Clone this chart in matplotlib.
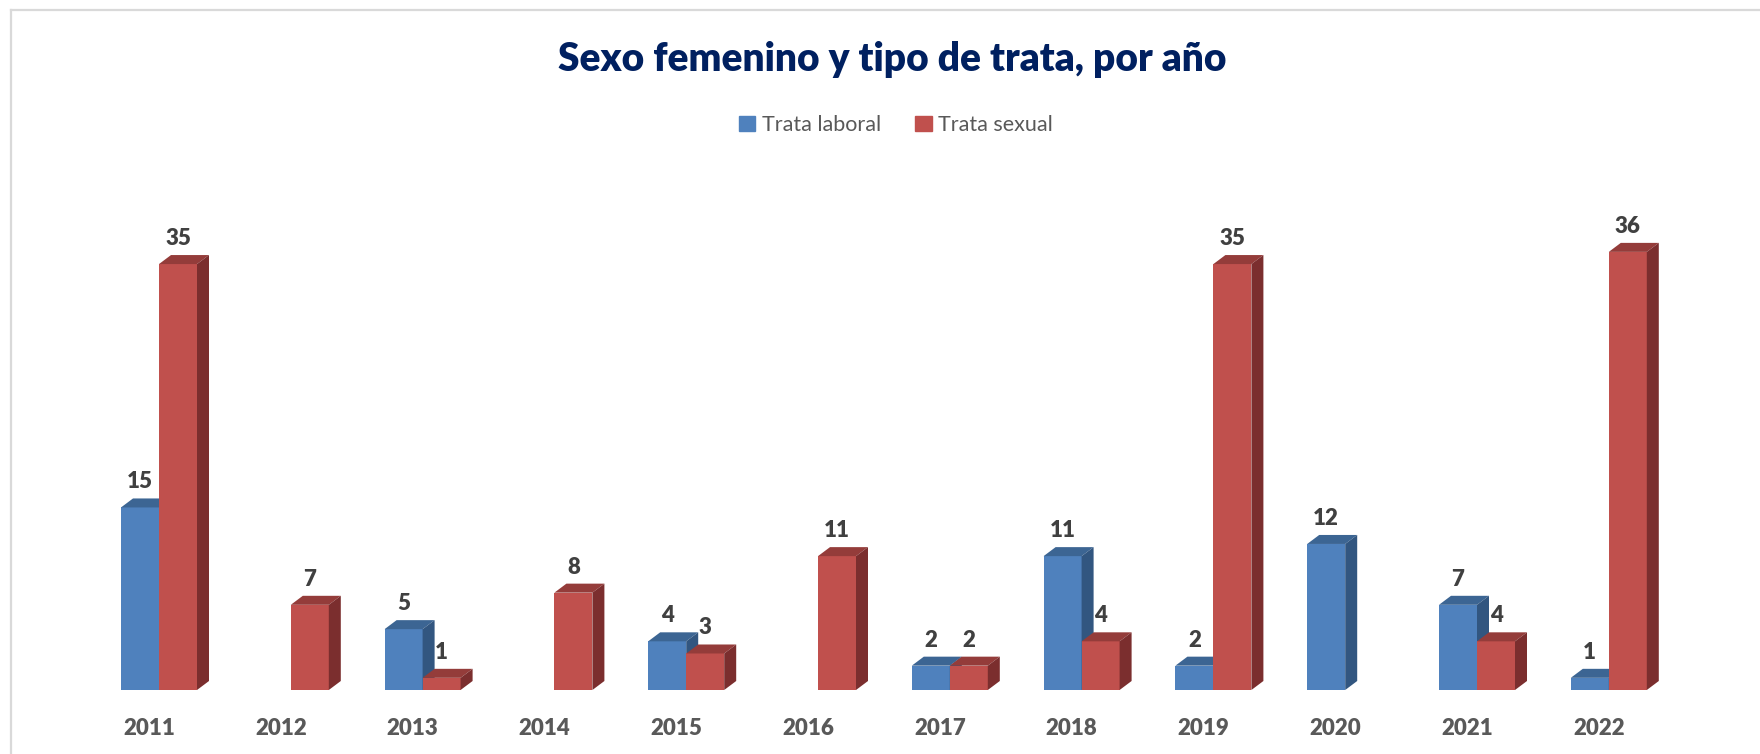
import matplotlib
matplotlib.use("Agg")
import matplotlib.pyplot as plt
from matplotlib.patches import Polygon, Rectangle
from matplotlib.lines import Line2D

years = ["2011", "2012", "2013", "2014", "2015", "2016", "2017", "2018", "2019", "2020", "2021", "2022"]
laboral = [15, 0, 5, 0, 4, 0, 2, 11, 2, 12, 7, 1]
sexual = [35, 7, 1, 8, 3, 11, 2, 4, 35, 0, 4, 36]
series_names = ["Trata laboral", "Trata sexual"]

title = "Sexo femenino y tipo de trata, por año"

# colours: front, top, side
blue = ("#4F81BD", "#3C6593", "#325680")
red = ("#C0504D", "#943C3A", "#7B2E2E")

FONT = ["Lato", "DejaVu Sans"]
plt.rcParams["font.family"] = FONT

W, H = 1760, 754
fig = plt.figure(figsize=(W / 100, H / 100), dpi=100)
fig.patch.set_facecolor("white")

# axes geometry (pixels)
px_per_cat = 131.8
px_per_unit = 12.17
base_px = 64
first_center = 159
ymax = 40
n = len(years)
ax_left = first_center - 0.5 * px_per_cat
ax_w = n * px_per_cat
ax_h = ymax * px_per_unit
ax = fig.add_axes([ax_left / W, base_px / H, ax_w / W, ax_h / H])
ax.set_xlim(-0.5, n - 0.5)
ax.set_ylim(0, ymax)
ax.axis("off")

bw = 38 / px_per_cat
dx = 12 / px_per_cat
dy = 9 / px_per_unit


def draw_series(vals, offset, cols):
    front, top, side = cols
    for i, v in enumerate(vals):
        if v <= 0:
            continue
        x0 = i + offset
        x1 = x0 + bw
        ax.bar(x0, v, width=bw, align="edge", color=front, edgecolor="none", zorder=2)
        ax.add_patch(Polygon([(x0, v), (x1, v), (x1 + dx, v + dy), (x0 + dx, v + dy)],
                             closed=True, facecolor=top, edgecolor="none", zorder=2))
        ax.add_patch(Polygon([(x1, 0), (x1 + dx, dy), (x1 + dx, v + dy), (x1, v)],
                             closed=True, facecolor=side, edgecolor="none", zorder=2))
        ax.text(x0 + bw / 2, v + 2.1, str(v), ha="center", va="center",
                fontsize=16, fontweight="heavy", color="#404040", clip_on=False)


draw_series(laboral, -bw, blue)
draw_series(sexual, 0.0, red)

for i, y in enumerate(years):
    ax.text(i - 0.075, -3.2, y, ha="center", va="center", fontsize=16,
            fontweight="heavy", color="#595959", clip_on=False)

fig.text(892 / W, 1 - 59 / H, title, ha="center", va="center", fontsize=28,
         fontweight="heavy", color="#002060")

handles = [Rectangle((0, 0), 1, 1, color=blue[0]), Rectangle((0, 0), 1, 1, color=red[0])]
leg = fig.legend(handles, series_names, loc="center", bbox_to_anchor=(896 / W, 1 - 125 / H),
                 ncol=2, frameon=False, handlelength=0.75, handleheight=0.75,
                 handletextpad=0.3, columnspacing=1.6, prop={"family": FONT, "size": 15.5})
for t in leg.get_texts():
    t.set_color("#595959")

fig.add_artist(Line2D([11 / W, 1], [1 - 10 / H, 1 - 10 / H], color="#d9d9d9", linewidth=1.6))
fig.add_artist(Line2D([11 / W, 11 / W], [0, 1 - 10 / H], color="#d9d9d9", linewidth=1.6))

fig.savefig("out.png", dpi=100, facecolor="white")
